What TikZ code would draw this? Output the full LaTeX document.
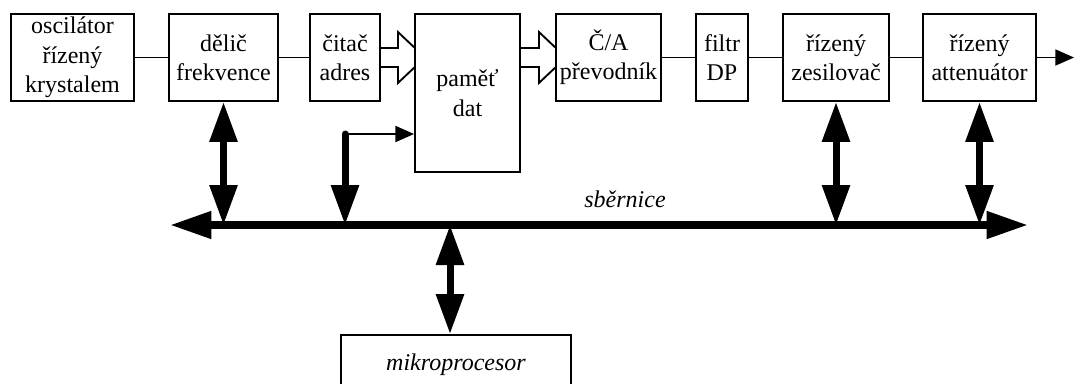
\documentclass[tikz,border=0pt]{standalone}
\usepackage{fontspec}
\setmainfont{Liberation Serif}
\usetikzlibrary{arrows.meta,backgrounds,calc}

\tikzset{
  blok/.style={draw, line width=1.4pt, fill=white, inner sep=0pt,
    minimum height=65.25pt, align=center, font=\fontsize{18}{22}\selectfont},
  spoj/.style={line width=1.4pt},
  sipka/.style={line width=1.4pt, -{Triangle[length=14pt,width=12pt]}},
  siroka/.style={line width=1.4pt, fill=white, line join=miter},
  sbernice/.style={line width=5.6pt,
    {Triangle[length=31pt,width=19.5pt]}-{Triangle[length=31pt,width=19.5pt]}},
  obousmer/.style={line width=5.25pt,
    {Triangle[length=30pt,width=20pt]}-{Triangle[length=30pt,width=20pt]}},
  jednosmer/.style={line width=5.25pt, line cap=round,
    -{Triangle[length=30pt,width=20pt]}},
}

\begin{document}
\begin{tikzpicture}[x=0.75pt,y=-0.75pt]

\useasboundingbox (0,0) rectangle (1074,383);

\node (osc) at (72.5,57.5) [blok, minimum width=92.25pt] {oscilátor\\řízený\\krystalem};
\node (delic) at (223.5,57.5) [blok, minimum width=81.75pt] {dělič\\frekvence};
\node (citac) at (345,57.5) [blok, minimum width=52.5pt] {čitač\\adres};
\node (pamet) at (467.5,93) [blok, minimum width=78.75pt, minimum height=118.5pt] {paměť\\dat};
\node (CA) at (608.5,57.5) [blok, minimum width=78.75pt] {Č/A\\převodník};
\node (filtr) at (722,57.5) [blok, minimum width=39pt] {filtr\\DP};
\node (zesil) at (836,57.5) [blok, minimum width=79.5pt] {řízený\\zesilovač};
\node (atten) at (979.5,57.5) [blok, minimum width=84.75pt] {řízený\\attenuátor};

\node (mikro) at (456,365) [blok, minimum width=172.5pt, minimum height=45pt,
  font=\itshape\fontsize{18}{22}\selectfont] {mikroprocesor};

\node (popis) at (625,199) [font=\itshape\fontsize{18}{22}\selectfont] {sběrnice};

\coordinate (busL) at (170,225);
\coordinate (busR) at (1028,225);
\coordinate (vystup) at (1074,57.5);
\coordinate (odb) at (345,134);
\coordinate (mp) at ([xshift=-4.5pt]mikro.north);

% datove cesty
\begin{pgfonlayer}{background}
\draw [siroka] ($(citac.east)+(0,-9.5)$) -- ++(17,0) -- ++(0,-16) -- ++(27,25.5)
  -- ++(-27,25.5) -- ++(0,-16) -- ++(-17,0);
\draw [siroka] ($(pamet.east |- CA.west)+(0,-9.5)$) -- ++(18,0) -- ++(0,-16) -- ++(27,25.5)
  -- ++(-27,25.5) -- ++(0,-16) -- ++(-18,0);
\end{pgfonlayer}

\path [spoj]
    (osc) edge (delic)
    (delic) edge (citac)
    (CA) edge (filtr)
    (filtr) edge (zesil)
    (zesil) edge (atten)
;
\draw [sipka] (atten) -- (vystup);
\draw [sipka] (odb) -- (odb -| pamet.west);

% sbernice
\draw [sbernice] (busL) -- (busR);
\draw [obousmer] (delic.south) -- (delic.south |- busL);
\draw [obousmer] (zesil.south) -- (zesil.south |- busL);
\draw [obousmer] (atten.south) -- (atten.south |- busL);
\draw [obousmer] (mp |- busL) -- (mp);
\draw [jednosmer] (odb) -- (odb |- busL);

\end{tikzpicture}
\end{document}
